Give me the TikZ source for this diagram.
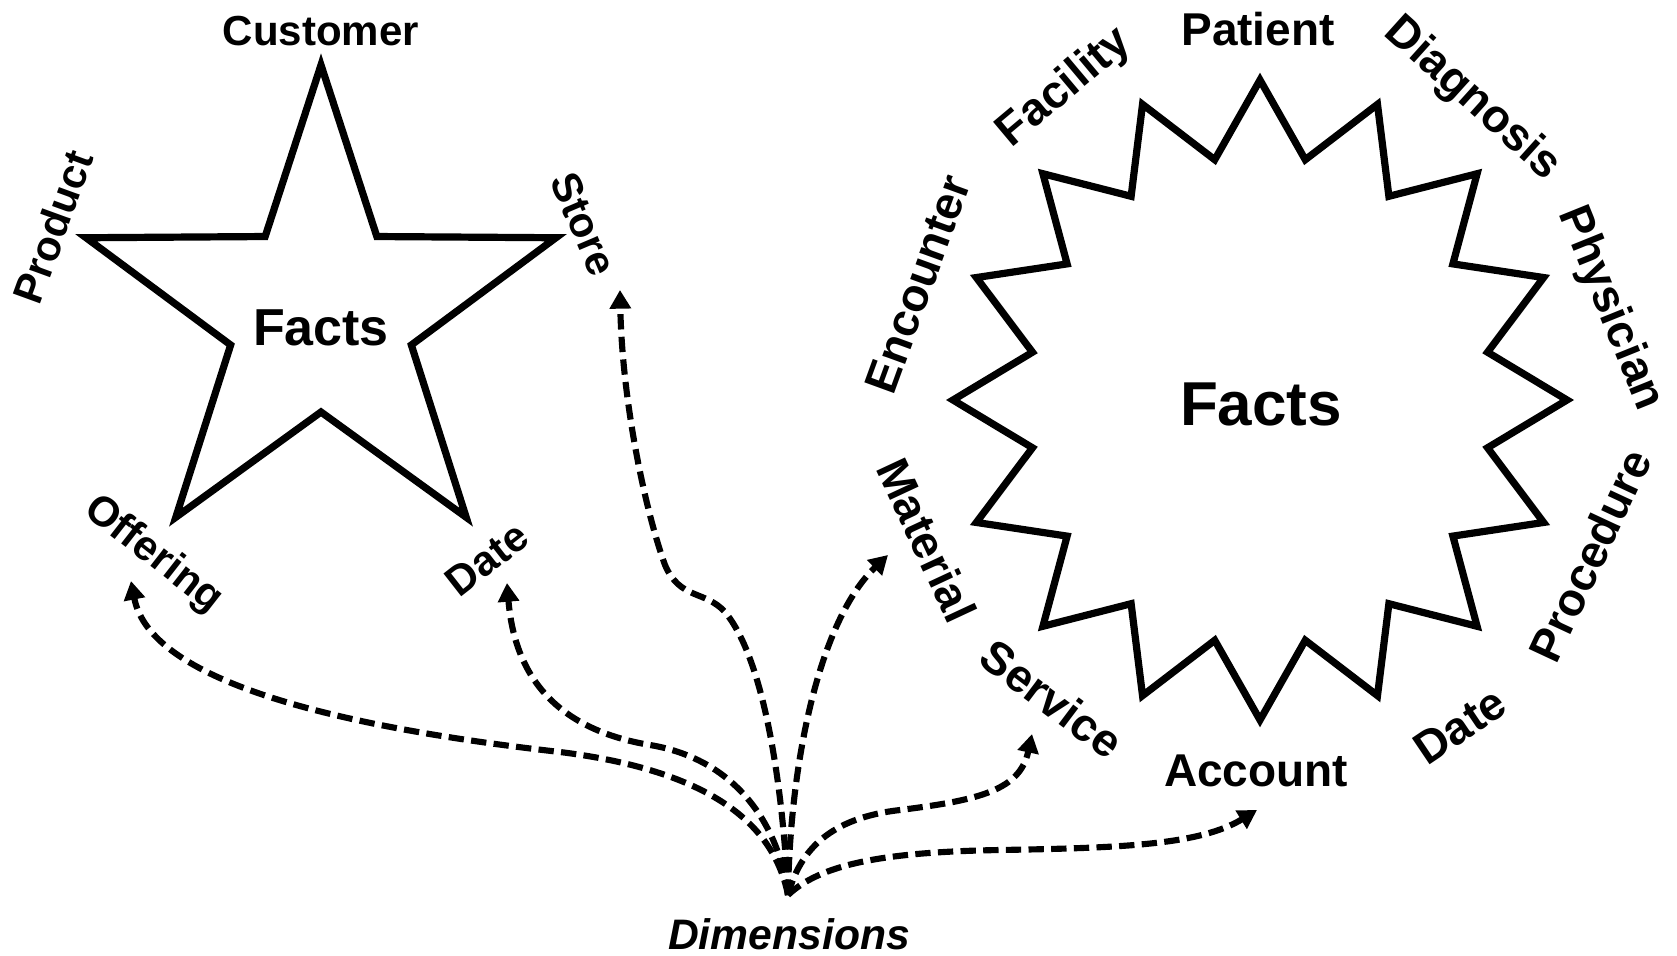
\documentclass[tikz,border=0pt]{standalone}
\usepackage{fontspec}
\setmainfont{Liberation Sans}
\usetikzlibrary{arrows.meta}

\tikzset{
	outline/.style={line width=5.4pt},
	dimarrow/.style={line width=4.6pt, dash pattern=on 11.5pt off 5.5pt, -{Triangle[length=14pt,width=15.5pt]}},
	lbl/.style={inner sep=0pt, font=\bfseries\fontsize{31.5}{36}\selectfont},
	lblR/.style={inner sep=0pt, font=\bfseries\fontsize{34.5}{40}\selectfont},
}

\begin{document}
\begin{tikzpicture}[x=0.75pt,y=0.75pt,yscale=-1,xscale=1]
	\useasboundingbox (0,0) rectangle (1677,956);

	% star schema
	\draw [outline] (321,65) \foreach \k in {1,...,9} { -- ({321+(247-152*mod(\k,2))*sin(36*\k)},{315-(250-153*mod(\k,2))*cos(36*\k)}) } -- cycle;
	\node (facts) at (321,328) [inner sep=0pt, font=\bfseries\fontsize{39}{44}\selectfont] {Facts};

	\node (customer) at (321,31) [lbl] {Customer};
	\node (product) at (53,227) [lbl, rotate=70] {Product};
	\node (store) at (584,224) [lbl, rotate=-67] {Store};
	\node (offering) at (153,555) [lbl, rotate=-38] {Offering};
	\node (dateL) at (487,559) [lbl, rotate=38] {Date};

	% starburst
	\draw [outline] (1260,80) \foreach \k in {1,...,31} { -- ({1260+(307-75*mod(\k,2))*sin(11.25*\k)},{400-(320-75*mod(\k,2))*cos(11.25*\k)}) } -- cycle;
	\node (factsR) at (1261,404) [inner sep=0pt, font=\bfseries\fontsize{46.5}{52}\selectfont] {Facts};

	\node (patient) at (1258,29) [lblR] {Patient};
	\node (diagnosis) at (1472,99) [lblR, rotate=-42] {Diagnosis};
	\node (physician) at (1610,309) [lblR, rotate=-68] {Physician};
	\node (procedure) at (1590,555) [lblR, rotate=65] {Procedure};
	\node (dateR) at (1460,726) [lblR, rotate=34] {Date};
	\node (account) at (1256,771) [lblR] {Account};
	\node (service) at (1052,699) [lblR, rotate=-37] {Service};
	\node (material) at (927,540) [lblR, rotate=-65] {Material};
	\node (encounter) at (918,284) [lblR, rotate=70] {Encounter};
	\node (facility) at (1065,88) [lblR, rotate=40] {Facility};

	\node (dim) at (789,934) [inner sep=0pt, font=\bfseries\itshape\fontsize{32}{38}\selectfont] {Dimensions};

	% arrow ends
	\coordinate (src) at (788,895);
	\coordinate (offering tip) at (131,581);
	\coordinate (dateL tip) at (507,583);
	\coordinate (store tip) at (620,290);
	\coordinate (material tip) at (888,555);
	\coordinate (service tip) at (1032,734);
	\coordinate (account tip) at (1257,810);

	\draw [dimarrow] (src) .. controls (775,830) and (720,772) .. (560,752) .. controls (330,726) and (150,680) .. (offering tip);
	\draw [dimarrow] (src) .. controls (780,830) and (740,760) .. (650,745) .. controls (560,730) and (515,680) .. (dateL tip);
	\draw [dimarrow] (src) .. controls (783,790) and (765,660) .. (725,612) .. controls (705,590) and (680,600) .. (665,565) .. controls (645,510) and (622,400) .. (store tip);
	\draw [dimarrow] (src) .. controls (790,760) and (820,620) .. (material tip);
	\draw [dimarrow] (src) .. controls (800,850) and (830,818) .. (900,810) .. controls (980,800) and (1020,790) .. (service tip);
	\draw [dimarrow] (src) .. controls (820,865) and (880,852) .. (1000,850) .. controls (1120,848) and (1200,845) .. (account tip);
\end{tikzpicture}
\end{document}
